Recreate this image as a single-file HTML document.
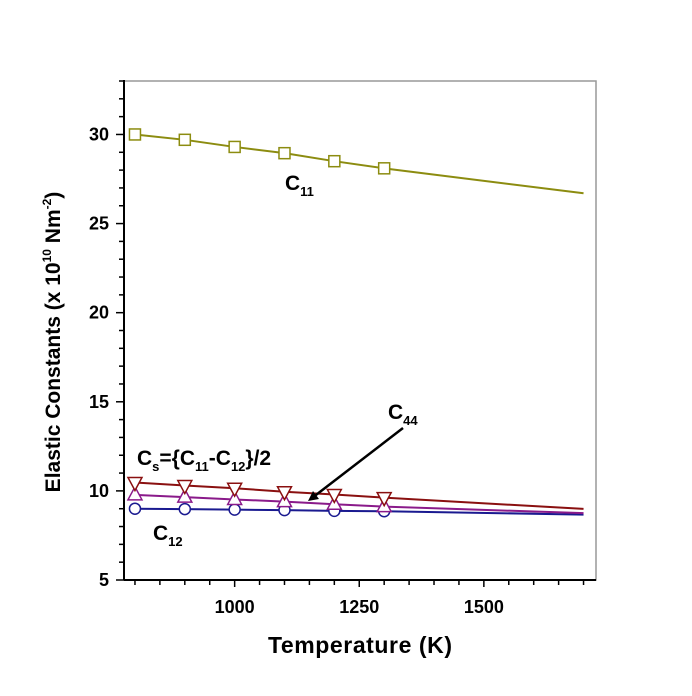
<!DOCTYPE html>
<html><head><meta charset="utf-8"><style>
html,body{margin:0;padding:0;background:#fff;}
svg{display:block;font-family:"Liberation Sans",Arial,sans-serif;}
</style></head><body>
<svg id="chart" width="692" height="696">
<g id="frame"></g><g id="axes"></g><g id="series"></g><g id="labels"></g>
</svg>
<script>
const temps = [800, 900, 1000, 1100, 1200, 1300, 1700];
const c11 = [30.0, 29.7, 29.3, 28.95, 28.5, 28.1, 26.7];
const c44 = [10.47, 10.3, 10.15, 9.95, 9.8, 9.62, 8.99];
const cs = [9.78, 9.65, 9.52, 9.4, 9.25, 9.12, 8.75];
const c12 = [9.0, 8.98, 8.95, 8.92, 8.88, 8.86, 8.67];
const markerCount = 6;
const xTicks = [1000, 1250, 1500];
const yTicks = [5, 10, 15, 20, 25, 30];
const X0=124, X1=596, Y0=580, Y1=81;
const xmin=778, xmax=1725, ymin=5, ymax=33;
const sx=v=>X0+(v-xmin)/(xmax-xmin)*(X1-X0);
const sy=v=>Y0-(v-ymin)/(ymax-ymin)*(Y0-Y1);
const NS="http://www.w3.org/2000/svg";
function mk(parent,tag,attrs,text){const e=document.createElementNS(NS,tag);for(const k in attrs)e.setAttribute(k,attrs[k]);if(text!==undefined)e.textContent=text;document.getElementById(parent).appendChild(e);return e;}
let e;
e=mk('frame','rect',{x:X0,y:Y1,width:X1-X0,height:Y0-Y1,fill:'none',stroke:'#999','stroke-width':1.5});


e=mk('axes','line',{x1:X0,y1:Y1-1,x2:X0,y2:Y0,stroke:'#000','stroke-width':2});


e=mk('axes','line',{x1:X0,y1:Y0,x2:X1,y2:Y0,stroke:'#000','stroke-width':2});


for(let v=800;v<=1700;v+=50){const maj=v%250===0;e=mk('axes','line',{x1:sx(v),y1:Y0,x2:sx(v),y2:Y0+(maj?7:5),stroke:'#000','stroke-width':1.5});

}
for(let v=6;v<=33;v++){if(v%5===0)continue;e=mk('axes','line',{x1:X0-5,y1:sy(v),x2:X0,y2:sy(v),stroke:'#000','stroke-width':1.5});

}
xTicks.forEach(v=>{e=mk('axes','text',{x:sx(v),y:Y0+33,'text-anchor':'middle','font-size':18,'font-weight':'bold'},String(v));

});
yTicks.forEach(v=>{e=mk('axes','line',{x1:X0-8,y1:sy(v),x2:X0,y2:sy(v),stroke:'#000','stroke-width':1.5});


e=mk('axes','text',{x:X0-15,y:sy(v)+6,'text-anchor':'end','font-size':18,'font-weight':'bold'},String(v));

});
function series(vals,color,marker,name){
 const pts=temps.map((t,i)=>sx(t)+','+sy(vals[i])).join(' ');
 e=mk('series','polyline',{points:pts,fill:'none',stroke:color,'stroke-width':2});
 
 
 for(let i=0;i<markerCount;i++){const x=sx(temps[i]),y=sy(vals[i]);let m;
  if(marker==='sq')m=mk('series','rect',{x:x-5.5,y:y-5.5,width:11,height:11,fill:'#fff',stroke:color,'stroke-width':1.5});
  else if(marker==='ci')m=mk('series','circle',{cx:x,cy:y,r:5.5,fill:'#fff',stroke:color,'stroke-width':1.5});
  else if(marker==='up')m=mk('series','polygon',{points:`${x},${y-8} ${x-7},${y+5} ${x+7},${y+5}`,fill:'#fff',stroke:color,'stroke-width':1.5});
  else m=mk('series','polygon',{points:`${x},${y+8} ${x-7},${y-5} ${x+7},${y-5}`,fill:'#fff',stroke:color,'stroke-width':1.5});
  
  }
}
series(c11,'#8c8c10','sq','c11');
series(c12,'#1a1a90','ci','c12');
series(cs,'#8a1a8a','up','cs');
series(c44,'#8a1010','dn','c44');
</script>
<div style="position:absolute;left:0;top:0;width:692px;height:696px;pointer-events:none">
<svg width="692" height="696" style="font-family:'Liberation Sans',Arial,sans-serif;">
<text x="285" y="190" font-size="21" font-weight="bold">C<tspan font-size="13" dy="6">11</tspan></text>
<text x="388" y="419" font-size="21" font-weight="bold">C<tspan font-size="13" dy="6">44</tspan></text>
<text x="137" y="465" font-size="21" font-weight="bold">C<tspan font-size="13" dy="6">s</tspan><tspan dy="-6">={C</tspan><tspan font-size="13" dy="6">11</tspan><tspan dy="-6">-C</tspan><tspan font-size="13" dy="6">12</tspan><tspan dy="-6">}/2</tspan></text>
<text x="153" y="540" font-size="21" font-weight="bold">C<tspan font-size="13" dy="6">12</tspan></text>
<line x1="403" y1="428" x2="312" y2="498" stroke="#000" stroke-width="2.5"/>
<polygon points="308,501 313,491 319,499" fill="#000"/>
<text x="360" y="653" text-anchor="middle" font-size="23" font-weight="bold" textLength="184">Temperature (K)</text>
<text transform="translate(60,342) rotate(-90)" text-anchor="middle" font-size="21" font-weight="bold">Elastic Constants (x 10<tspan font-size="12" dy="-9">10</tspan><tspan dy="9"> Nm</tspan><tspan font-size="12" dy="-9">-2</tspan><tspan dy="9">)</tspan></text>
</svg></div>
</body></html>
